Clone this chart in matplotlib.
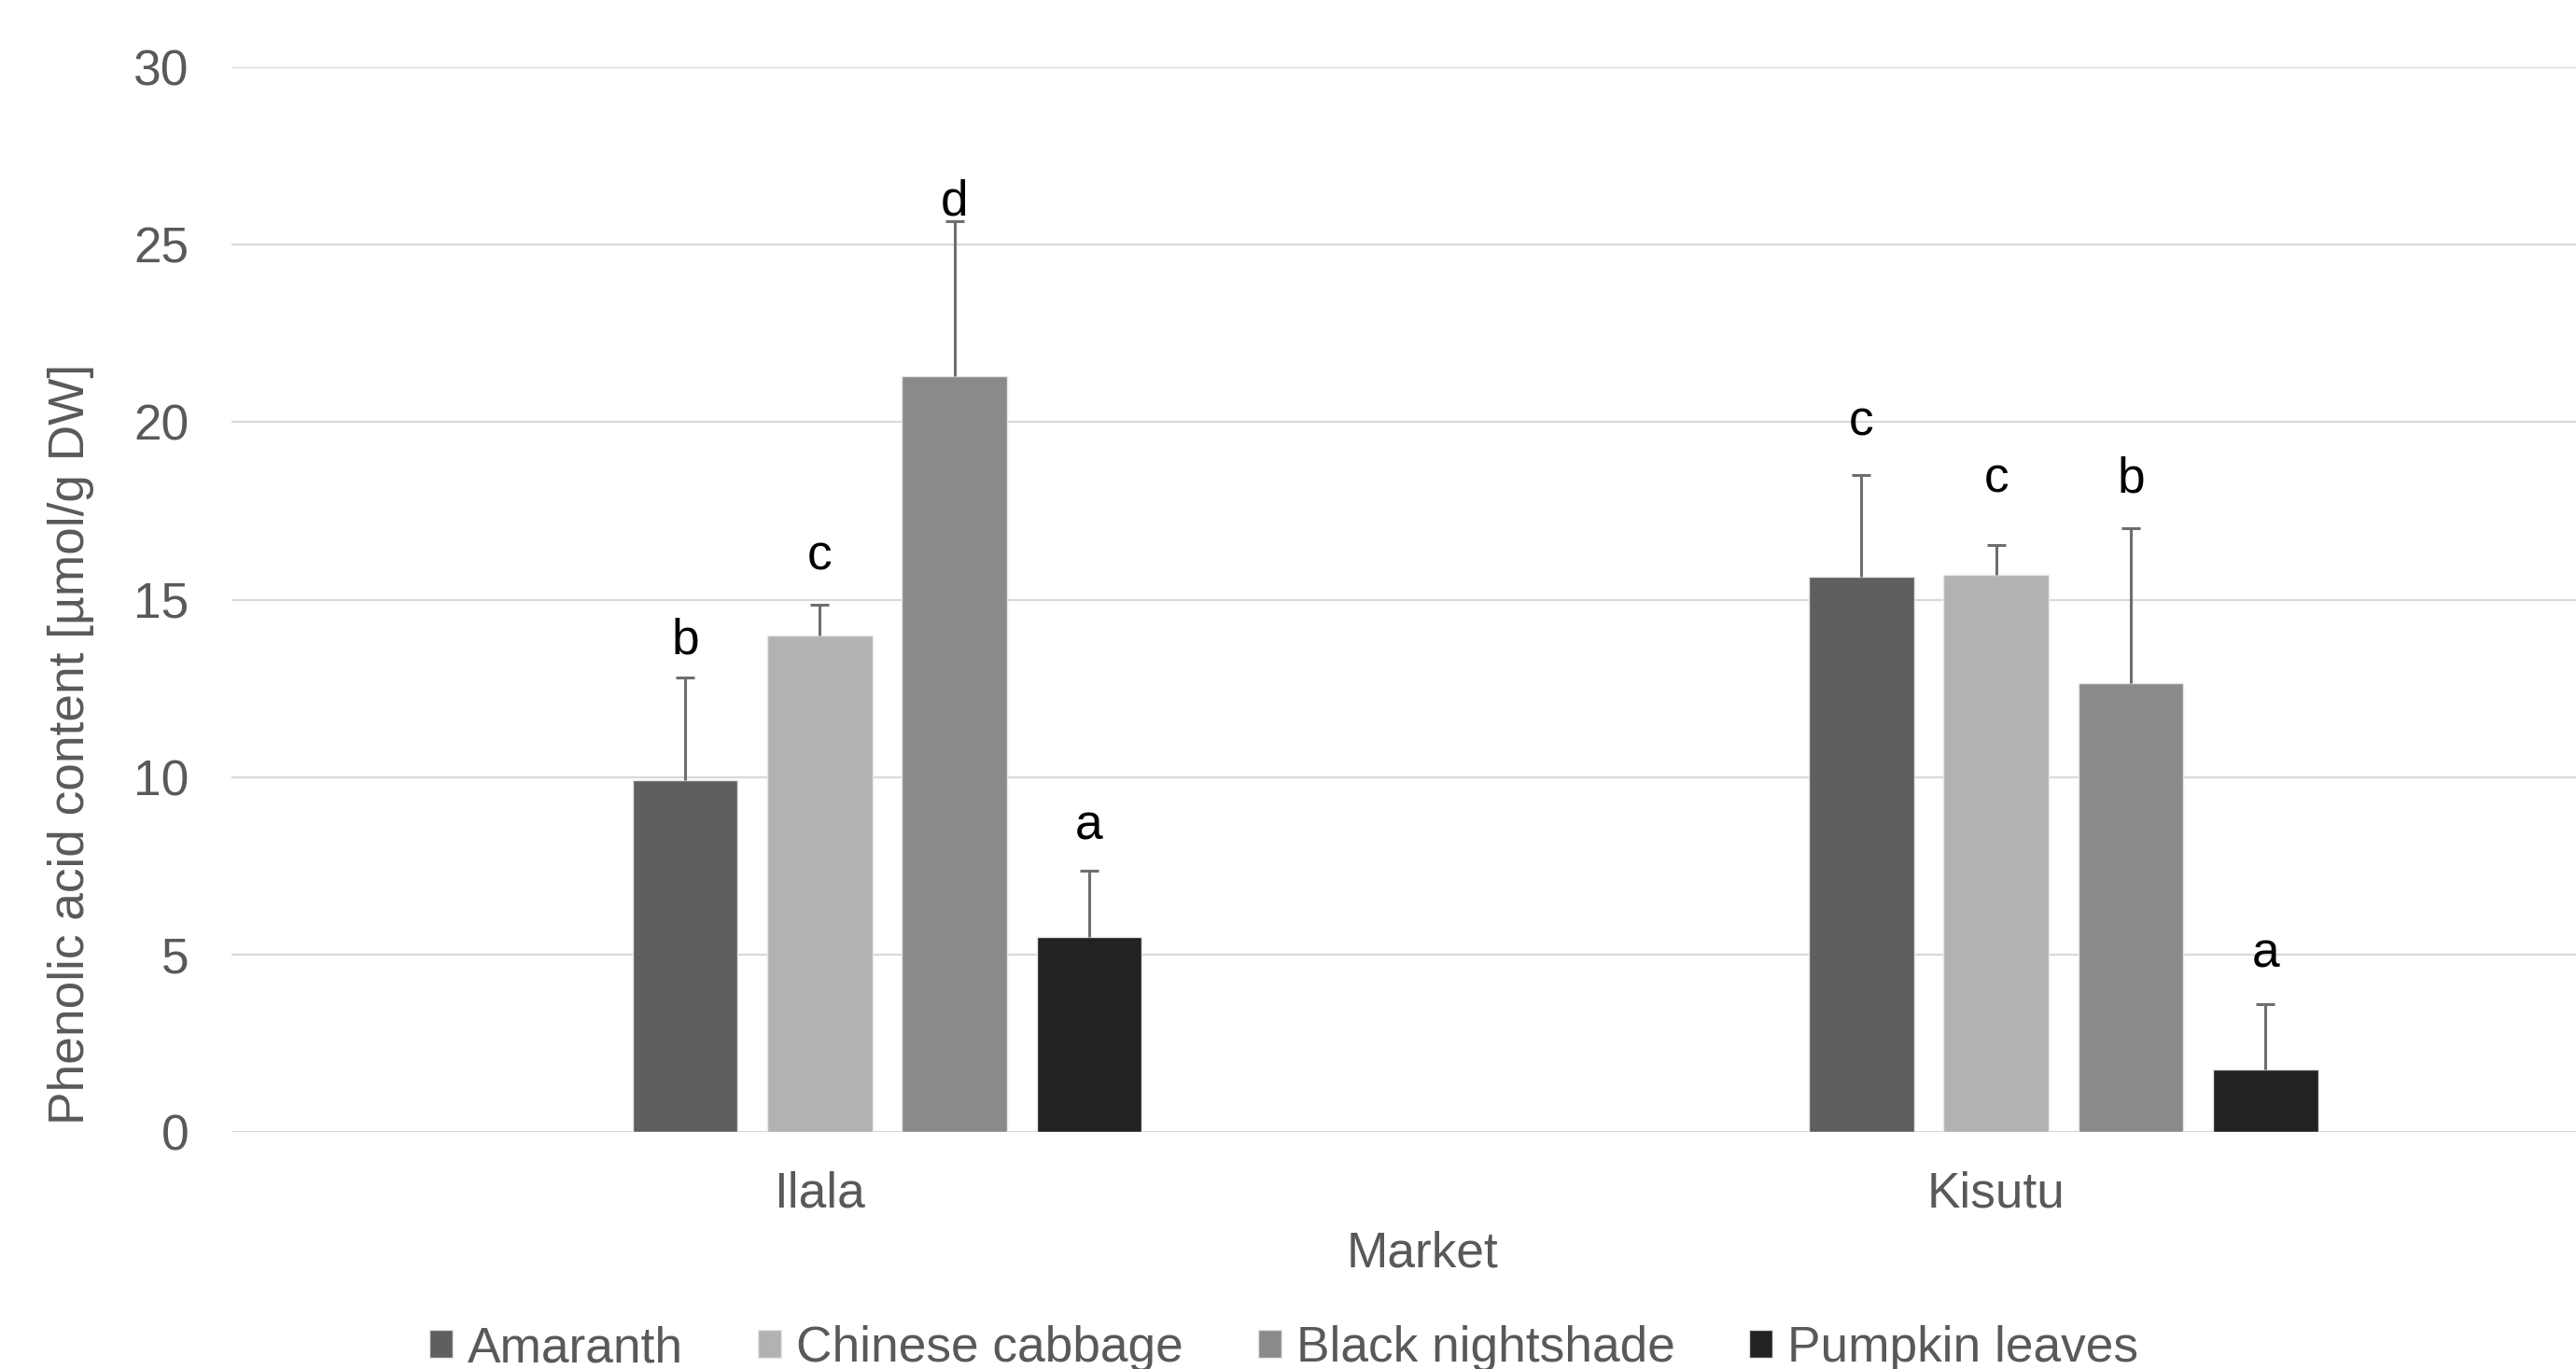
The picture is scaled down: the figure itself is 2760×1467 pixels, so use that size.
import numpy as np
import matplotlib
matplotlib.use("Agg")
import matplotlib.pyplot as plt

plt.rcParams['font.family'] = ['Liberation Sans', 'DejaVu Sans']

markets = ["Ilala", "Kisutu"]
vegetables = ["Amaranth", "Chinese cabbage", "Black nightshade", "Pumpkin leaves"]
colors = ["#5f5f5f", "#b2b2b2", "#8a8a8a", "#222222"]

# mean phenolic acid content per vegetable, one value per market
means = {
    "Amaranth": [9.9, 15.65],
    "Chinese cabbage": [14.0, 15.7],
    "Black nightshade": [21.3, 12.65],
    "Pumpkin leaves": [5.5, 1.76],
}
errors = {
    "Amaranth": [2.9, 2.87],
    "Chinese cabbage": [0.85, 0.85],
    "Black nightshade": [4.35, 4.35],
    "Pumpkin leaves": [1.85, 1.85],
}
# significance letters and the height they sit at
letters = {
    "Amaranth": ["b", "c"],
    "Chinese cabbage": ["c", "c"],
    "Black nightshade": ["d", "b"],
    "Pumpkin leaves": ["a", "a"],
}
letter_y = {
    "Amaranth": [13.85, 20.0],
    "Chinese cabbage": [16.2, 18.4],
    "Black nightshade": [26.2, 18.4],
    "Pumpkin leaves": [8.6, 5.0],
}

text_color = "#595959"
fs = 38.3

fig = plt.figure(figsize=(27.6, 14.67), dpi=100)
ax = fig.add_axes([248 / 2760, 1 - 1213 / 1467, (2769 - 248) / 2760, (1213 - 72) / 1467])

x = np.arange(len(markets))
step = 0.1145
width = 0.0894
# bars fill slots 1..4 of a five-slot group (first slot empty)
for i, veg in enumerate(vegetables):
    pos = x + (i - 1) * step
    err = [np.zeros(len(markets)), errors[veg]]
    ax.bar(pos, means[veg], width, color=colors[i], edgecolor="#e6e6e6",
           linewidth=1.0, label=veg, zorder=3)
    eb = ax.errorbar(pos, means[veg], yerr=err, fmt="none", ecolor="#6e6e6e",
                     elinewidth=2.2, capsize=7, capthick=2.2, zorder=4)
    # plus-only bars: hide the cap sitting on the bar top
    eb[1][0].set_visible(False)
    for j in range(len(markets)):
        ax.text(pos[j], letter_y[veg][j], letters[veg][j], ha="center",
                va="center", fontsize=fs, color="black", zorder=5)

ax.set_xlim(-0.5, 1.5)
ax.set_ylim(0, 30)
ax.set_yticks(np.arange(0, 31, 5))
ax.set_xticks(x)
ax.set_xticklabels(markets)
ax.grid(axis="y", color="#d9d9d9", linewidth=1.6, zorder=0)
ax.set_axisbelow(True)
for s in ax.spines.values():
    s.set_visible(False)
ax.tick_params(axis="both", length=0, labelsize=fs, labelcolor=text_color)
ax.tick_params(axis="y", pad=33)
ax.tick_params(axis="x", pad=30)

fig.text(1524 / 2760, 1 - 1343 / 1467, "Market",
         ha="center", va="center", fontsize=fs, color=text_color)
fig.text(76 / 2760, 1 - 797 / 1467, "Phenolic acid content [µmol/g DW]",
         rotation=90, ha="center", va="center", fontsize=fs, color=text_color)

leg = fig.legend(loc="center", bbox_to_anchor=(0.4985, 1 - 1445 / 1467), ncol=4,
                 frameon=False, fontsize=fs, handlelength=0.47, handleheight=0.47,
                 handletextpad=0.3, columnspacing=1.5, labelcolor=text_color)

fig.savefig("out.png", dpi=100)
